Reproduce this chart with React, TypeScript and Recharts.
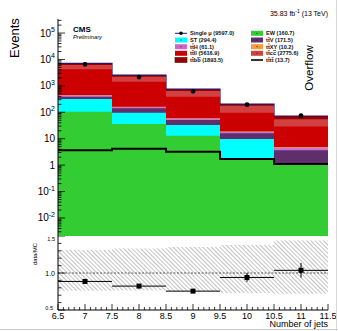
import React from 'react';
import { Area, ComposedChart, ErrorBar, Legend, Line, ReferenceLine, Scatter, XAxis, YAxis } from 'recharts';

// bins of "Number of jets" (last bin is overflow)
const jets = [7, 8, 9, 10, 11];
const edges = [6.5, 7.5, 8.5, 9.5, 10.5, 11.5];

// MC yields per bin
const ew = [105, 36, 13, 1.8, 1.15];
const st = [213, 60, 20, 8, 0];
const ttV = [71, 45, 18, 6.2, 2.5];
const ttH = [55, 18, 7, 2.3, 1.0];
const ttXY = [6, 2.5, 1, 0.4, 0.2];
const ttll = [3790, 1278, 331, 78, 24];
const ttcc = [1910, 780, 250, 81, 25.5];
const ttbb = [990, 350, 120, 28, 18];
const tttt = [3.7, 4.2, 3.2, 1.7, 1.1];
const singleMu = [6550, 2160, 624, 195, 74];

// ratio panel
const ratio = [0.886, 0.823, 0.755, 0.94, 1.036];
const ratioErr = [0.012, 0.018, 0.025, 0.06, 0.1];
const uncLow = [0.76, 0.765, 0.75, 0.73, 0.72];
const uncHigh = [1.31, 1.33, 1.35, 1.38, 1.44];

const Y_MIN = 0.00208;
const Y_MAX = 3.4e5;
const FONT = '"Liberation Sans", Arial, Helvetica, sans-serif';

const stack = [
  { key: 'ew', values: ew, color: '#33cc33' },
  { key: 'st', values: st, color: '#00ffff' },
  { key: 'ttV', values: ttV, color: '#5e2f6b' },
  { key: 'ttH', values: ttH, color: '#cc77cc' },
  { key: 'ttXY', values: ttXY, color: '#ff9933' },
  { key: 'ttll', values: ttll, color: '#cc0000' },
  { key: 'ttcc', values: ttcc, color: '#d24141' },
  { key: 'ttbb', values: ttbb, color: '#990000' },
];

const lastBin = jets.length - 1;
const mainRows = edges.map((x, i) => {
  const b = Math.min(i, lastBin);
  const row: Record<string, number> = { x, tttt: tttt[b] };
  let sum = 0;
  stack.forEach((s) => {
    sum += s.values[b];
    row[s.key] = sum;
  });
  return row;
});

const dataPoints = jets.map((x, i) => ({ x, y: singleMu[i] }));

const ratioRows = edges.map((x, i) => {
  const b = Math.min(i, lastBin);
  return { x, unc: [uncLow[b], uncHigh[b]] };
});
const ratioPoints = jets.map((x, i) => ({ x, y: ratio[i], ex: 0.5, ey: ratioErr[i] }));

const logTicks: number[] = [];
for (let e = -3; e <= 5; e++) {
  for (let m = 1; m <= 9; m++) {
    const v = m * Math.pow(10, e);
    if (v >= Y_MIN && v <= Y_MAX) logTicks.push(v);
  }
}
const xTicks: number[] = [];
for (let k = 65; k <= 115; k++) xTicks.push(k / 10);
const ratioTicks: number[] = [];
for (let k = 5; k <= 15; k++) ratioTicks.push(k / 10);

const isDecade = (v) => Math.abs(Math.log10(v) - Math.round(Math.log10(v))) < 1e-6;
const isHalf = (v) => Math.abs(v * 2 - Math.round(v * 2)) < 1e-6;

const LogTick = ({ x, y, payload, side }) => {
  const v = payload.value;
  const major = isDecade(v);
  const len = major ? 7 : 3.5;
  const e = Math.round(Math.log10(v));
  const dir = side === 'left' ? 1 : -1;
  return (
    <g>
      <line x1={x} x2={x + dir * len} y1={y} y2={y} stroke="#000" strokeWidth={0.8} />
      {major && side === 'left' && (
        <text x={x - 3} y={y + 3.5} textAnchor="end" fontSize={10} fontFamily={FONT} fill="#000">
          {e === 0 ? '1' : e === 1 ? '10' : (
            <>
              10<tspan dy={-4.5} fontSize={7}>{e}</tspan>
            </>
          )}
        </text>
      )}
    </g>
  );
};

// 0.5 and 1.5 sit at the pad corners, nudge them inside
const ratioLabelDy = { '0.5': -0.5, '1.0': 2.5, '1.5': 4.5 };
const ratioLabelDx = { '0.5': -5, '1.0': -3, '1.5': -3 };

const RatioTick = ({ x, y, payload, side }) => {
  const v = payload.value;
  const major = Math.abs(v * 2 - Math.round(v * 2)) < 1e-6;
  const len = major ? 7 : 3.5;
  const dir = side === 'left' ? 1 : -1;
  const lbl = v.toFixed(1);
  return (
    <g>
      <line x1={x} x2={x + dir * len} y1={y} y2={y} stroke="#000" strokeWidth={0.8} />
      {major && side === 'left' && (
        <text
          x={x + ratioLabelDx[lbl]}
          y={y + ratioLabelDy[lbl]}
          textAnchor="end"
          fontSize={v === 1 ? 7 : 5.5}
          fontFamily={FONT}
          fill="#000"
        >
          {lbl}
        </text>
      )}
    </g>
  );
};

const XTick = ({ x, y, payload, side, labels }) => {
  const v = payload.value;
  const major = isHalf(v);
  const len = major ? 6 : 3;
  const dir = side === 'bottom' ? -1 : 1;
  return (
    <g>
      <line x1={x} x2={x} y1={y} y2={y + dir * len} stroke="#000" strokeWidth={0.8} />
      {major && labels && (
        <text x={x} y={y + 8.5} textAnchor="middle" fontSize={9} fontFamily={FONT} fill="#000">
          {String(v)}
        </text>
      )}
    </g>
  );
};

const bar = (s) => <tspan style={{ textDecoration: 'overline' }}>{s}</tspan>;

const legendLeft = [
  { kind: 'data', name: <>Single μ (9597.0)</> },
  { kind: 'box', color: '#00ffff', name: <>ST (294.4)</> },
  { kind: 'box', color: '#cc66cc', name: <>t{bar('t')}H (61.1)</> },
  { kind: 'box', color: '#cc0000', name: <>t{bar('t')}ll (5616.9)</> },
  { kind: 'box', color: '#990000', name: <>t{bar('t')}b{bar('b')} (1893.5)</> },
];
const legendRight = [
  { kind: 'box', color: '#33cc33', name: <>EW (160.7)</> },
  { kind: 'box', color: '#5e2f6b', name: <>t{bar('t')}V (171.5)</> },
  { kind: 'box', color: '#ff9933', name: <>t{bar('t')}XY (10.2)</> },
  { kind: 'box', color: '#d24141', name: <>t{bar('t')}c{bar('c')} (2775.6)</> },
  { kind: 'line', name: <>t{bar('t')}t{bar('t')} (13.7)</> },
];
const legendRowsY = [7.3, 14, 20.7, 27.3, 34];

const LegendEntry = ({ entry, x0, y }) => (
  <g>
    {entry.kind === 'data' && (
      <>
        <line x1={x0} x2={x0 + 12} y1={y} y2={y} stroke="#1c1c70" strokeWidth={1} />
        <circle cx={x0 + 6} cy={y} r={1.8} fill="#000" />
      </>
    )}
    {entry.kind === 'box' && (
      <>
        <rect x={x0} y={y - 2.5} width={12} height={5} fill={entry.color} stroke={entry.color === '#990000' ? '#5a0000' : 'none'} strokeWidth={0.6} />
        <rect x={x0 + 5.5} y={y - 0.5} width={1} height={1} fill="#222" />
      </>
    )}
    {entry.kind === 'line' && <line x1={x0} x2={x0 + 12} y1={y} y2={y} stroke="#000" strokeWidth={1.6} />}
    <text x={x0 + 15} y={y + 2} fontSize={5.6} fontWeight="bold" fontFamily={FONT} fill="#111">
      {entry.name}
    </text>
  </g>
);

const renderLegend = () => (
  <svg width={160} height={40} style={{ display: 'block' }}>
    {legendLeft.map((e, i) => (
      <LegendEntry key={'l' + i} entry={e} x0={5} y={legendRowsY[i]} />
    ))}
    {legendRight.map((e, i) => (
      <LegendEntry key={'r' + i} entry={e} x0={81} y={legendRowsY[i]} />
    ))}
  </svg>
);

const DataDot = (props) => <circle cx={props.cx} cy={props.cy} r={2.4} fill="#000" />;
const RatioSquare = (props) => <rect x={props.cx - 2.5} y={props.cy - 2.5} width={5} height={5} fill="#000" />;

export default function App() {
  return (
    <div style={{ position: 'absolute', left: 0, top: 0, width: 338, height: 331, background: '#fff', fontFamily: FONT }}>
      <div style={{ position: 'absolute', left: 0, top: 0 }}>
        <ComposedChart width={338} height={236} data={mainRows} margin={{ top: 19, right: 10, left: 0, bottom: 0 }}>
          <XAxis
            xAxisId="b"
            dataKey="x"
            type="number"
            domain={[6.5, 11.5]}
            allowDataOverflow
            ticks={xTicks}
            interval={0}
            height={0}
            tickSize={0}
            tickMargin={0}
            tickLine={false}
            axisLine={{ stroke: '#000' }}
            tick={(p) => <XTick {...p} side="bottom" labels={false} />}
          />
          <XAxis
            xAxisId="t"
            orientation="top"
            type="number"
            domain={[6.5, 11.5]}
            allowDataOverflow
            ticks={xTicks}
            interval={0}
            height={0}
            tickSize={0}
            tickMargin={0}
            tickLine={false}
            axisLine={{ stroke: '#000' }}
            tick={(p) => <XTick {...p} side="top" labels={false} />}
          />
          <YAxis
            yAxisId="l"
            scale="log"
            domain={[Y_MIN, Y_MAX]}
            allowDataOverflow
            ticks={logTicks}
            interval={0}
            width={58}
            tickSize={0}
            tickMargin={0}
            tickLine={false}
            axisLine={{ stroke: '#000' }}
            tick={(p) => <LogTick {...p} side="left" />}
          />
          <YAxis
            yAxisId="r"
            orientation="right"
            scale="log"
            domain={[Y_MIN, Y_MAX]}
            allowDataOverflow
            ticks={logTicks}
            interval={0}
            width={0}
            tickSize={0}
            tickMargin={0}
            tickLine={false}
            axisLine={{ stroke: '#000' }}
            tick={(p) => <LogTick {...p} side="right" />}
          />
          {[...stack].reverse().map((s) => (
            <Area
              key={s.key}
              xAxisId="b"
              yAxisId="l"
              type="stepAfter"
              dataKey={s.key}
              baseValue={Y_MIN}
              fill={s.color}
              fillOpacity={1}
              stroke={s.key === 'ttbb' ? '#2a1660' : 'none'}
              strokeWidth={1.2}
              isAnimationActive={false}
            />
          ))}
          <Line
            xAxisId="b"
            yAxisId="l"
            type="stepAfter"
            dataKey="tttt"
            stroke="#000"
            strokeWidth={2}
            dot={false}
            isAnimationActive={false}
          />
          <Scatter xAxisId="b" yAxisId="l" data={dataPoints} dataKey="y" shape={DataDot} isAnimationActive={false} />
          <Legend
            layout="horizontal"
            verticalAlign="middle"
            align="center"
            content={renderLegend}
            wrapperStyle={{ left: 170, top: 26, width: 160, height: 40 }}
          />
        </ComposedChart>
      </div>

      <div style={{ position: 'absolute', left: 0, top: 236 }}>
        <ComposedChart width={338} height={95} data={ratioRows} margin={{ top: 0, right: 10, left: 0, bottom: 0 }}>
          <defs>
            <pattern id="hatch" width="3" height="3" patternUnits="userSpaceOnUse" patternTransform="rotate(-45)">
              <line x1="0.5" y1="0" x2="0.5" y2="3" stroke="#a8a8a8" strokeWidth="0.7" />
            </pattern>
          </defs>
          <XAxis
            xAxisId="b"
            dataKey="x"
            type="number"
            domain={[6.5, 11.5]}
            allowDataOverflow
            ticks={xTicks}
            interval={0}
            height={21}
            tickSize={0}
            tickMargin={0}
            tickLine={false}
            axisLine={{ stroke: '#000' }}
            tick={(p) => <XTick {...p} side="bottom" labels />}
          />
          <XAxis
            xAxisId="t"
            orientation="top"
            type="number"
            domain={[6.5, 11.5]}
            allowDataOverflow
            ticks={xTicks}
            interval={0}
            height={0}
            tickSize={0}
            tickMargin={0}
            tickLine={false}
            axisLine={{ stroke: '#000' }}
            tick={(p) => <XTick {...p} side="top" labels={false} />}
          />
          <YAxis
            yAxisId="l"
            domain={[0.5, 1.5]}
            allowDataOverflow
            ticks={ratioTicks}
            interval={0}
            width={58}
            tickSize={0}
            tickMargin={0}
            tickLine={false}
            axisLine={{ stroke: '#000' }}
            tick={(p) => <RatioTick {...p} side="left" />}
          />
          <YAxis
            yAxisId="r"
            orientation="right"
            domain={[0.5, 1.5]}
            allowDataOverflow
            ticks={ratioTicks}
            interval={0}
            width={0}
            tickSize={0}
            tickMargin={0}
            tickLine={false}
            axisLine={{ stroke: '#000' }}
            tick={(p) => <RatioTick {...p} side="right" />}
          />
          <Area
            xAxisId="b"
            yAxisId="l"
            type="stepAfter"
            dataKey="unc"
            fill="url(#hatch)"
            fillOpacity={1}
            stroke="none"
            isAnimationActive={false}
          />
          <ReferenceLine xAxisId="b" yAxisId="l" y={1} stroke="#333" strokeDasharray="2 1.5" strokeWidth={0.8} />
          <Scatter xAxisId="b" yAxisId="l" data={ratioPoints} dataKey="y" shape={RatioSquare} isAnimationActive={false}>
            <ErrorBar dataKey="ex" direction="x" width={0} stroke="#000" strokeWidth={1} />
            <ErrorBar dataKey="ey" direction="y" width={0} stroke="#000" strokeWidth={1} />
          </Scatter>
        </ComposedChart>
      </div>

      <svg width={338} height={331} style={{ position: 'absolute', left: 0, top: 0, pointerEvents: 'none' }}>
        <text x={328} y={15.5} textAnchor="end" fontSize={7} fontFamily={FONT} fill="#000">
          35.83 fb<tspan dy={-2.5} fontSize={5}>-1</tspan>
          <tspan dy={2.5}> (13 TeV)</tspan>
        </text>
        <text x={73} y={32} fontSize={8} fontWeight="bold" fontFamily={FONT} fill="#000">CMS</text>
        <text x={73} y={38.5} fontSize={5.8} fontStyle="italic" fontFamily={FONT} fill="#000">Preliminary</text>
        <text transform="translate(19,38) rotate(-90)" textAnchor="middle" fontSize={13} fontFamily={FONT} fill="#000">Events</text>
        <text transform="translate(313,68) rotate(-90)" textAnchor="middle" fontSize={11.5} fontFamily={FONT} fill="#000">Overflow</text>
        <text transform="translate(37,254) rotate(-90)" textAnchor="middle" fontSize={5.8} fontFamily={FONT} fill="#000">data/MC</text>
        <text x={328} y={327} textAnchor="end" fontSize={9} fontFamily={FONT} fill="#000">Number of jets</text>
        <line x1={0} x2={338} y1={329.5} y2={329.5} stroke="#c8c8c8" strokeWidth={1} />
        <line x1={336.5} x2={336.5} y1={0} y2={331} stroke="#d8d8d8" strokeWidth={1} />
      </svg>
    </div>
  );
}
